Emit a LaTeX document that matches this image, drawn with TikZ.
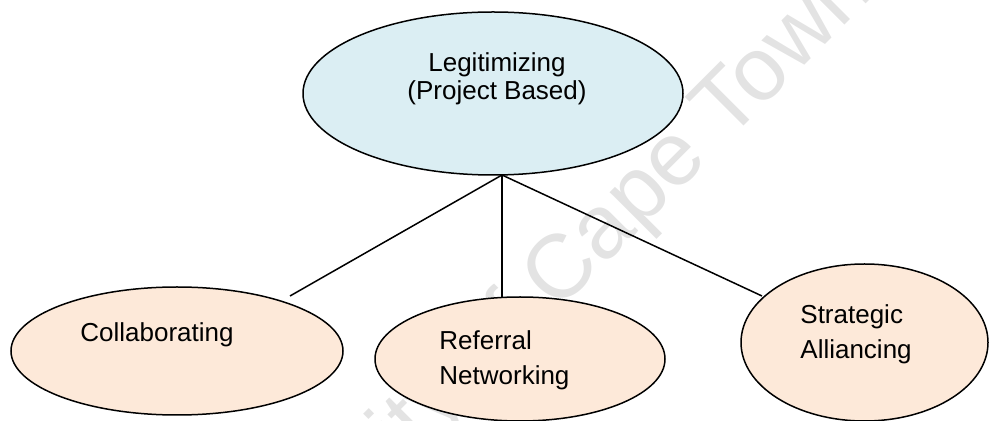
\documentclass[tikz,border=0pt]{standalone}
\usepackage{fontspec}
\setmainfont{Liberation Sans}
\usetikzlibrary{shapes.geometric}
\definecolor{topfill}{RGB}{219,238,243}
\definecolor{subfill}{RGB}{253,233,217}
\definecolor{markgray}{RGB}{227,227,227}
\tikzset{
  oval/.style={ellipse, draw=black, line width=0.75pt, inner sep=0pt},
  topoval/.style={oval, fill=topfill},
  suboval/.style={oval, fill=subfill},
  lbl/.style={inner sep=0pt, font=\fontsize{13}{15}\selectfont},
  link/.style={draw=black, line width=0.75pt},
  watermark/.style={inner sep=0pt, text=markgray, font=\fontsize{45}{50}\selectfont}
}
\begin{document}
\begin{tikzpicture}[x=0.5pt, y=-0.5pt]
  \useasboundingbox (0,0) rectangle (989,421);
  % university watermark, running diagonally behind the chart
  \begin{scope}
    \clip (0,0) rectangle (989,421);
    \node[watermark, anchor=base west, rotate=45] (wm) at (190,680) {University of Cape Town};
  \end{scope}

  % ellipses
  \node[topoval, minimum width=190pt, minimum height=81.5pt] (top) at (493,93.5) {};
  \node[suboval, minimum width=166pt, minimum height=64pt] (coll) at (177,351) {};
  \node[suboval, minimum width=145pt, minimum height=62pt] (ref) at (520,359) {};
  \node[suboval, minimum width=123.5pt, minimum height=78.5pt] (strat) at (864.5,342.5) {};

  % connector end points
  \coordinate (hub) at (502,175);
  \coordinate (collend) at (290,296);
  \coordinate (refend) at (502,297);
  \coordinate (stratend) at (762,296);
  \draw[link] (hub) -- (collend);
  \draw[link] (hub) -- (refend);
  \draw[link] (hub) -- (stratend);

  % labels
  \node[lbl, anchor=base] (t1) at (497,72) {Legitimizing};
  \node[lbl, anchor=base] (t2) at (497,100) {(Project Based)};
  \node[lbl, anchor=base west] (c1) at (80,342) {Collaborating};
  \node[lbl, anchor=base west] (r1) at (439,350) {Referral};
  \node[lbl, anchor=base west] (r2) at (439,385) {Networking};
  \node[lbl, anchor=base west] (s1) at (800,324) {Strategic};
  \node[lbl, anchor=base west] (s2) at (800,359) {Alliancing};
\end{tikzpicture}
\end{document}
